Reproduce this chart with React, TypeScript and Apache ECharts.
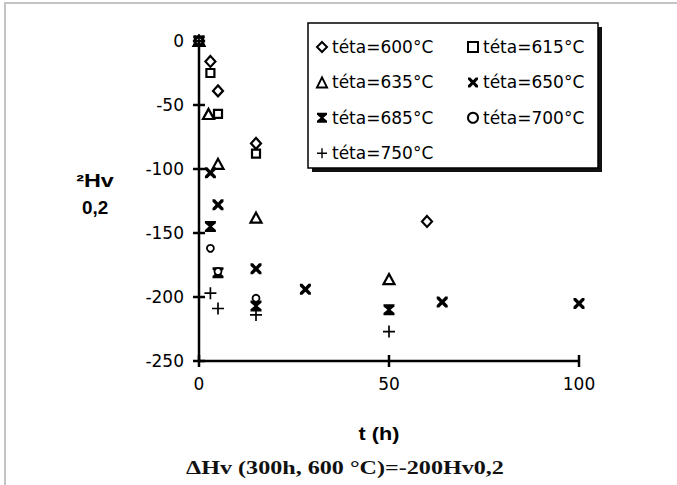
import React, { useEffect, useRef } from 'react';
import * as echarts from 'echarts';

// ---- data (t in hours, ΔHv) ----
const names = ['téta=600°C', 'téta=615°C', 'téta=635°C', 'téta=650°C', 'téta=685°C', 'téta=700°C', 'téta=750°C'];

const t600 = [0, 3, 5, 15, 60];
const v600 = [0, -16, -39, -80, -141];
const t615 = [0, 3, 5, 15];
const v615 = [0, -25, -57, -88];
const t635 = [0, 2.5, 5, 15, 50];
const v635 = [0, -57, -96, -138, -186];
const t650 = [0, 3, 5, 15, 28, 64, 100];
const v650 = [0, -103, -128, -178, -194, -204, -205];
const t685 = [0, 3, 5, 15, 50];
const v685 = [0, -145, -181, -207, -210];
const t700 = [0, 3, 5, 15];
const v700 = [0, -162, -180, -201];
const t750 = [0, 3, 5, 15, 50];
const v750 = [0, -197, -209, -214, -227];

const xTicks = [0, 50, 100];
const yTicks = [0, -50, -100, -150, -200, -250];
const X_MIN = 0, X_MAX = 100, Y_MIN = -250, Y_MAX = 0;

const G_LEFT = 199, G_TOP = 41, G_W = 380, G_H = 320;

const CROSS = 'path://M0,0 L2.2,0 L5,2.8 L7.8,0 L10,0 L10,2.2 L7.2,5 L10,7.8 L10,10 L7.8,10 L5,7.2 L2.2,10 L0,10 L0,7.8 L2.8,5 L0,2.2 Z';
const PLUS = 'path://M4.3,0 L5.7,0 L5.7,4.3 L10,4.3 L10,5.7 L5.7,5.7 L5.7,10 L4.3,10 L4.3,5.7 L0,5.7 L0,4.3 L4.3,4.3 Z';
const HOURGLASS = 'path://M0,0 L10,0 L10,2 L6.4,5 L10,8 L10,10 L0,10 L0,8 L3.6,5 L0,2 Z';

function mk(name: string, ts: number[], vs: number[], symbol: string, size: number | number[], hollow: boolean, bw = 2) {
  return {
    type: 'scatter',
    name,
    data: ts.map((t, i) => [t, vs[i]]),
    symbol,
    symbolSize: size,
    itemStyle: hollow ? { color: '#fff', borderColor: '#000', borderWidth: bw, opacity: 1 } : { color: '#000', opacity: 1 },
    emphasis: { disabled: true },
    z: 3,
  };
}

const SANS = 'DejaVu Sans';

function txt(text: string, x: number, y: number, font: string, scaleX: number, fill = '#000') {
  return {
    type: 'text', x, y, scaleX, z: 5,
    style: { text, font, fill, align: 'center', verticalAlign: 'middle' },
  };
}

function axisGraphics() {
  const els: any[] = [];
  const xb = G_TOP + G_H;
  els.push({
    type: 'polyline', z: 10,
    shape: { points: [[G_LEFT, G_TOP], [G_LEFT, xb], [G_LEFT + G_W, xb]] },
    style: { stroke: '#000000', lineWidth: 2.5, fill: 'none' },
  });
  xTicks.forEach((v) => {
    const x = G_LEFT + ((v - X_MIN) / (X_MAX - X_MIN)) * G_W;
    els.push({ type: 'polyline', z: 10, shape: { points: [[x, xb - 6], [x, xb + 6]] }, style: { stroke: '#000000', lineWidth: 2.5, fill: 'none' } });
  });
  yTicks.forEach((v) => {
    const y = G_TOP + ((Y_MAX - v) / (Y_MAX - Y_MIN)) * G_H;
    els.push({ type: 'polyline', z: 10, shape: { points: [[G_LEFT - 6, y], [G_LEFT + 6, y]] }, style: { stroke: '#000000', lineWidth: 2.5, fill: 'none' } });
  });
  return els;
}

export default function App() {
  const ref = useRef<HTMLDivElement>(null);
  useEffect(() => {
    const chart = echarts.init(ref.current!, null, { renderer: 'svg' });
    const legendText = { fontSize: 17, fontFamily: SANS, color: '#000', lineHeight: 20 };
    chart.setOption({
      animation: false,
      backgroundColor: '#fff',
      grid: { left: G_LEFT, top: G_TOP, width: G_W, height: G_H, containLabel: false },
      xAxis: {
        type: 'value',
        min: X_MIN,
        max: X_MAX,
        interval: 50,
        position: 'bottom',
        splitLine: { show: false },
        axisLine: { show: true, onZero: false, lineStyle: { color: '#000', width: 2 } },
        axisTick: { show: true, length: 6, lineStyle: { color: '#000', width: 2 } },
        axisLabel: {
          margin: 14,
          fontSize: 17,
          fontFamily: SANS,
          color: '#000',
          formatter: (v: number) => (xTicks.includes(v) ? String(v) : ''),
        },
      },
      yAxis: {
        type: 'value',
        min: Y_MIN,
        max: Y_MAX,
        interval: 50,
        position: 'left',
        splitLine: { show: false },
        axisLine: { show: true, onZero: false, lineStyle: { color: '#000', width: 2 } },
        axisTick: { show: true, length: 6, lineStyle: { color: '#000', width: 2 } },
        axisLabel: {
          margin: 15,
          fontSize: 17,
          fontFamily: SANS,
          color: '#000',
          formatter: (v: number) => (yTicks.includes(v) ? String(v) : ''),
        },
      },
      legend: [
        {
          data: [names[0], names[2], names[4], names[6]],
          orient: 'vertical',
          left: 311,
          top: 32,
          itemWidth: 10,
          itemHeight: 10,
          itemGap: 15.4,
          selectedMode: false,
          textStyle: legendText,
        },
        {
          data: [names[1], names[3], names[5]],
          orient: 'vertical',
          left: 462,
          top: 32,
          itemWidth: 10,
          itemHeight: 10,
          itemGap: 15.4,
          selectedMode: false,
          textStyle: legendText,
        },
      ],
      graphic: [
        { type: 'rect', shape: { x: 4, y: 2, width: 2, height: 483 }, style: { fill: '#c4c4c4' }, z: 0 },
        { type: 'rect', shape: { x: 4, y: 2, width: 673, height: 2 }, style: { fill: '#c4c4c4' }, z: 0 },
        { type: 'rect', shape: { x: 312, y: 27, width: 290, height: 145 }, style: { fill: '#111' }, z: 1 },
        { type: 'rect', shape: { x: 308, y: 23, width: 290, height: 145 }, style: { fill: '#fff', stroke: '#000', lineWidth: 1.5 }, z: 1 },
        ...axisGraphics(),
        txt('²Hv', 95, 181, 'bold 18px "Liberation Sans"', 1.3),
        txt('0,2', 95, 208, 'bold 18px "Liberation Sans"', 1.05),
        txt('t (h)', 379, 434, 'bold 18px "Liberation Sans"', 1.2),
        txt('ΔHv (300h, 600 °C)=-200Hv0,2', 345, 468, 'bold 19px "Liberation Serif"', 1.27, '#111'),
      ],
      series: [
        mk(names[0], t600, v600, 'diamond', [10, 11], true, 2.2),
        mk(names[1], t615, v615, 'rect', 8, true, 2.2),
        mk(names[2], t635, v635, 'triangle', [11, 10], true, 2.2),
        mk(names[3], t650, v650, CROSS, 11, false),
        mk(names[4], t685, v685, HOURGLASS, 11, false),
        mk(names[5], t700, v700, 'circle', 7, true, 1.8),
        mk(names[6], t750, v750, PLUS, 12, false),
      ],
    });
    return () => chart.dispose();
  }, []);
  return <div ref={ref} style={{ position: 'absolute', left: 0, top: 0, width: 677, height: 485 }} />;
}
